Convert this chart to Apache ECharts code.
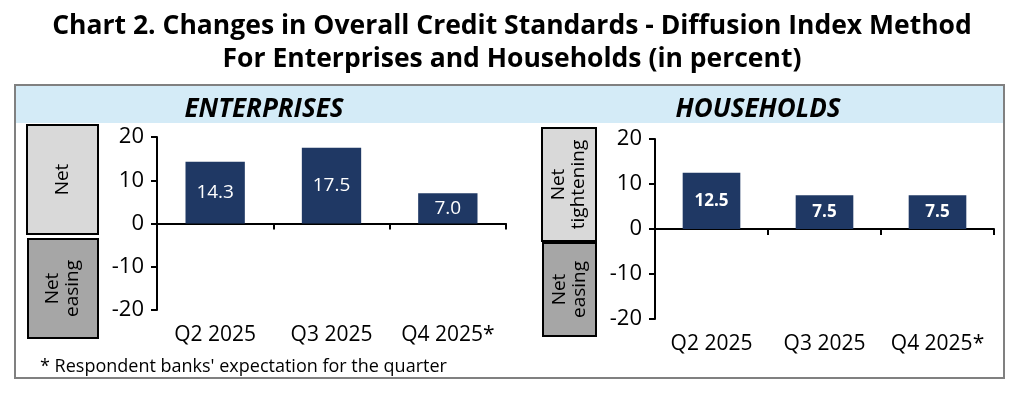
<!DOCTYPE html>
<html><head><meta charset="utf-8">
<script src="https://cdn.jsdelivr.net/npm/echarts@6/dist/echarts.min.js"></script>
<style>html,body{margin:0;padding:0;background:#fff}#c{width:1024px;height:393px}</style>
</head><body><div id="c"></div>
<script>
const categories = ['Q2 2025', 'Q3 2025', 'Q4 2025*'];
const enterprises = [14.3, 17.5, 7.0];
const households = [12.5, 7.5, 7.5];
const yTicks = [-20, -10, 0, 10, 20];

const FONT = 'Open Sans';
const NAVY = '#1f3864';
const chart = echarts.init(document.getElementById('c'));

function yAxis(gi) {
  return {
    type: 'value', gridIndex: gi, min: yTicks[0], max: yTicks[yTicks.length - 1], interval: 10,
    axisLine: { show: true, lineStyle: { color: '#000', width: 2 } },
    axisTick: { show: true, length: 6, lineStyle: { color: '#000', width: 2 } },
    splitLine: { show: false },
    axisLabel: { color: '#000', fontSize: 22, fontFamily: FONT, margin: 13 }
  };
}
function xLine(gi) {
  return {
    type: 'category', gridIndex: gi, data: categories,
    axisLine: { show: true, onZero: true, lineStyle: { color: '#000', width: 2 } },
    axisTick: { show: true, length: 6, lineStyle: { color: '#000', width: 2 } },
    axisLabel: { show: false }
  };
}
function xLabels(gi) {
  return {
    type: 'category', gridIndex: gi, data: categories, position: 'bottom',
    axisLine: { show: false, onZero: false }, axisTick: { show: false },
    axisLabel: { color: '#000', fontSize: 21, fontFamily: FONT, margin: 15, interval: 0, hideOverlap: false }
  };
}
function box(x, y, w, h, fill, text) {
  return [
    { type: 'rect', shape: { x: x, y: y, width: w, height: h }, style: { fill: fill, stroke: '#000', lineWidth: 2 } },
    { type: 'text', x: x + w / 2, y: y + h / 2, rotation: Math.PI / 2,
      style: { text: text, fill: '#000', font: '19px "' + FONT + '"', align: 'center', verticalAlign: 'middle', lineHeight: 20 } }
  ];
}

chart.setOption({
  animation: false,
  title: {
    text: 'Chart 2. Changes in Overall Credit Standards - Diffusion Index Method\nFor Enterprises and Households (in percent)',
    left: 'center', top: 5,
    textStyle: { fontFamily: FONT, fontWeight: 'bold', fontSize: 26.5, lineHeight: 33, color: '#000' }
  },
  graphic: [
    { type: 'rect', shape: { x: 15, y: 85, width: 989, height: 293 }, style: { fill: '#fff', stroke: '#808080', lineWidth: 2 }, z: -10 },
    { type: 'rect', shape: { x: 16, y: 86, width: 987, height: 37 }, style: { fill: '#d4ebf7' }, z: -9 },
    { type: 'text', x: 264, y: 110, style: { text: 'ENTERPRISES', font: 'italic bold 26px "' + FONT + '"', fill: '#000', align: 'center', verticalAlign: 'middle' } },
    { type: 'text', x: 758, y: 110, style: { text: 'HOUSEHOLDS', font: 'italic bold 26px "' + FONT + '"', fill: '#000', align: 'center', verticalAlign: 'middle' } },
    ...box(27, 125, 71, 109, '#d9d9d9', 'Net'),
    ...box(28, 239, 70, 99, '#a6a6a6', 'Net\neasing'),
    ...box(542, 128, 54, 113, '#d9d9d9', 'Net\ntightening'),
    ...box(543, 243, 53, 93, '#a6a6a6', 'Net\neasing'),
    { type: 'text', x: 40, y: 367, style: { text: "* Respondent banks' expectation for the quarter", font: '18px "' + FONT + '"', fill: '#000', align: 'left', verticalAlign: 'middle' } }
  ],
  grid: [
    { left: 157, width: 349, top: 137, height: 173 },
    { left: 655, width: 339, top: 139, height: 180 }
  ],
  xAxis: [xLine(0), xLabels(0), xLine(1), xLabels(1)],
  yAxis: [yAxis(0), yAxis(1)],
  series: [
    { type: 'bar', xAxisIndex: 0, yAxisIndex: 0, data: enterprises, barWidth: '51%', itemStyle: { color: NAVY },
      label: { show: true, position: 'inside', color: '#fff', fontSize: 19, fontFamily: FONT, formatter: p => p.value.toFixed(1) } },
    { type: 'bar', xAxisIndex: 2, yAxisIndex: 1, data: households, barWidth: '51%', itemStyle: { color: NAVY },
      label: { show: true, position: 'inside', color: '#fff', fontSize: 17, fontWeight: 'bold', fontFamily: FONT, formatter: p => p.value.toFixed(1) } }
  ]
});
</script></body></html>
